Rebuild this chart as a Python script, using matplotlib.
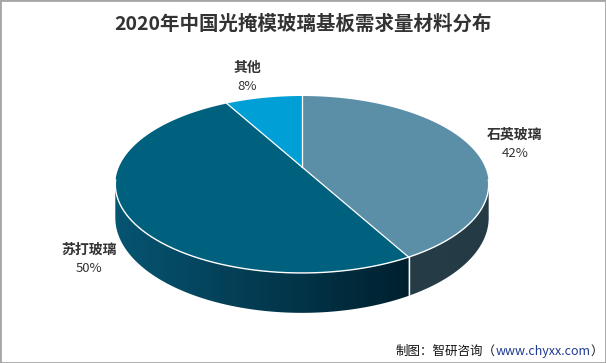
import numpy as np
import matplotlib.pyplot as plt
from matplotlib.patches import Polygon, Rectangle
from matplotlib.colors import to_rgb

plt.rcParams['font.family'] = ['Noto Sans CJK SC', 'DejaVu Sans']

# Data
title = '2020年中国光掩模玻璃基板需求量材料分布'
materials = ['石英玻璃', '苏打玻璃', '其他']
shares = [42, 50, 8]
top_colors = ['#5b8fa7', '#00617f', '#009fd6']
# wall shade at the right end / left end of the visible wall
side_colors = [('#243a45', '#263d48'), ('#00202e', '#065572'), ('#0080b0', '#0080b0')]
footer = '制图：智研咨询（'
footer_url = 'www.chyxx.com'

# 3D pie geometry (pixels), simple perspective on the pie plane
cx, cy, sx, q, px, depth = 302, 167, 52, -0.1977, 183, 32


def proj(theta, drop=0.0):
    t = np.radians(theta)
    u, v = np.sin(t), -np.cos(t)
    w = 1 + q * v
    return cx + px * u / w, (cy + sx * v) / w + drop / w


fig = plt.figure(figsize=(6.06, 3.63), dpi=100)
ax = fig.add_axes([0, 0, 1, 1])
ax.set_xlim(0, 606)
ax.set_ylim(363, 0)
ax.axis('off')

total = sum(shares)
edges = np.concatenate([[0], np.cumsum(shares) / total * 360])

# visible wall: between the silhouette points
t_sil = np.degrees(np.arccos(q))
vis0, vis1 = t_sil, 360 - t_sil

# side walls with a horizontal gradient
for i in range(len(shares)):
    a0, a1 = max(edges[i], vis0), min(edges[i + 1], vis1)
    if a1 <= a0:
        continue
    ts = np.linspace(a0, a1, 200)
    top = [proj(t) for t in ts]
    bot = [proj(t, depth) for t in ts[::-1]]
    pts = np.array(top + bot)
    wall = Polygon(pts, closed=True, facecolor='none', edgecolor='none')
    ax.add_patch(wall)
    xl, xr = pts[:, 0].min(), pts[:, 0].max()
    yt, yb = pts[:, 1].min(), pts[:, 1].max()
    c_r, c_l = np.array(to_rgb(side_colors[i][0])), np.array(to_rgb(side_colors[i][1]))
    f = np.linspace(0, 1, 256)[:, None]
    grad = (c_l * (1 - f) + c_r * f)[None, :, :]
    im = ax.imshow(grad, extent=[xl - 1, xr + 1, yb + 1, yt - 1], aspect='auto',
                   interpolation='bilinear', zorder=1)
    im.set_clip_path(wall)

# white vertical line on the wall at slice boundaries
for e in edges:
    if vis0 < e < vis1:
        x0, y0 = proj(e)
        x1, y1 = proj(e, depth)
        ax.plot([x0, x1], [y0, y1], color='white', lw=1, zorder=3)

# top face
for i in range(len(shares)):
    ts = np.linspace(edges[i], edges[i + 1], 200)
    pts = [(cx, cy)] + [proj(t) for t in ts]
    ax.add_patch(Polygon(pts, closed=True, facecolor=top_colors[i], edgecolor='none', zorder=2))

# white edges on top
rim = np.array([proj(t) for t in np.linspace(vis0 - 3, vis1 + 3, 300)])
ax.plot(rim[:, 0], rim[:, 1], color='white', lw=1, zorder=3)
for e in edges[:-1]:
    x1, y1 = proj(e)
    ax.plot([cx, x1], [cy, y1], color='white', lw=0.9, zorder=3)

ax.set_xlim(0, 606)
ax.set_ylim(363, 0)

# labels
label_pos = [(515, 135), (89, 250), (247, 68)]
for name, val, (lx, ly) in zip(materials, shares, label_pos):
    ax.text(lx, ly, name, ha='center', va='center', fontsize=10, fontweight='bold', color='#333333')
    ax.text(lx, ly + 18.5, f'{val}%', ha='center', va='center', fontsize=9.5, color='#333333')

ax.text(303, 24, title, ha='center', va='center', fontsize=14, fontweight='bold', color='#333333')

t3 = ax.text(603, 351, '）', ha='right', va='center', fontsize=9, color='#111111')
t2 = ax.annotate(footer_url, xy=(0, 0), xycoords=t3, ha='right', va='bottom',
                 fontsize=9, color='#1f3a93')
ax.annotate(footer, xy=(0, 0), xycoords=t2, ha='right', va='bottom', fontsize=9, color='#111111')

fig.add_artist(Rectangle((0, 0), 1, 1, transform=fig.transFigure, fill=False,
                         edgecolor='#a6a6a6', lw=2))

fig.savefig('out.png', dpi=100)
